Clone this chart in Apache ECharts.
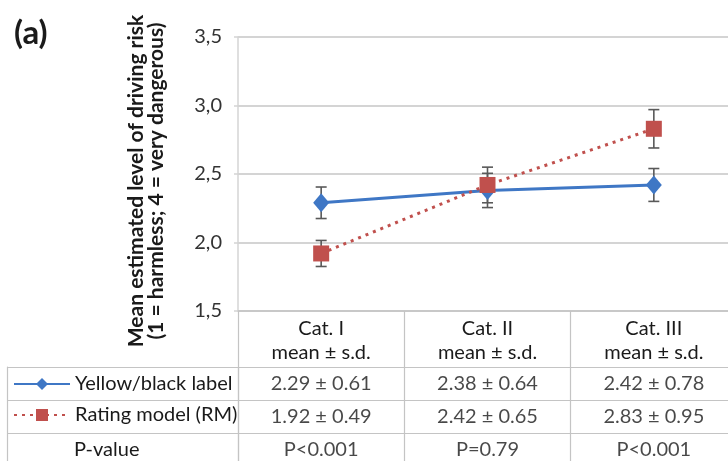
<!DOCTYPE html>
<html>
<head>
<meta charset="utf-8">
<script src="https://cdn.jsdelivr.net/npm/echarts@6/dist/echarts.min.js"></script>
<style>
  html, body { margin: 0; padding: 0; background: #fff; }
  #chart_a { width: 728px; height: 461px; }
</style>
</head>
<body>
<div id="chart_a"></div>
<script>
// values
var categories = ['Cat. I', 'Cat. II', 'Cat. III'];
var seriesNames = ['Yellow/black label', 'Rating model (RM)'];
var yellowMean = [2.29, 2.38, 2.42];
var yellowSd = [0.61, 0.64, 0.78];
var yellowErr = [0.115, 0.125, 0.12];
var rmMean = [1.92, 2.42, 2.83];
var rmSd = [0.49, 0.65, 0.95];
var rmErr = [0.095, 0.13, 0.14];
var pValues = ['P<0.001', 'P=0.79', 'P<0.001'];
var rowNames = [seriesNames[0], seriesNames[1], 'P-value'];
var yTicks = [1.5, 2.0, 2.5, 3.0, 3.5];

var blue = '#3f77c5',
    red = '#c0504d',
    gridGray = '#d4d4d4',
    tableGray = '#c4c4c4',
    textColor = '#1a1a1a',
    font = 'Lato';

function errData(mean, err) {
    return mean.map(function (m, i) {
        return [i, m - err[i], m + err[i]];
    });
}

function cellData() {
    var out = [];
    categories.forEach(function (c, i) {
        out.push([i, 0, yellowMean[i].toFixed(2) + ' ± ' + yellowSd[i].toFixed(2)]);
        out.push([i, 1, rmMean[i].toFixed(2) + ' ± ' + rmSd[i].toFixed(2)]);
        out.push([i, 2, pValues[i]]);
    });
    return out;
}

function renderErr(params, api) {
    var x = api.value(0);
    var lo = api.coord([x, api.value(1)]);
    var hi = api.coord([x, api.value(2)]);
    var w = 5.5;
    var st = {stroke: '#595959', lineWidth: 1.6};
    return {
        type: 'group',
        children: [
            {type: 'line', shape: {x1: lo[0], y1: lo[1], x2: hi[0], y2: hi[1]}, style: st},
            {type: 'line', shape: {x1: lo[0] - w, y1: lo[1], x2: lo[0] + w, y2: lo[1]}, style: st},
            {type: 'line', shape: {x1: hi[0] - w, y1: hi[1], x2: hi[0] + w, y2: hi[1]}, style: st}
        ]
    };
}

var option = {
    animation: false,
    textStyle: {fontFamily: font},
    title: {
        text: '(a)',
        left: 9,
        top: 12,
        textStyle: {fontSize: 33, fontWeight: 'bold', color: textColor, fontFamily: font}
    },
    legend: {
        orient: 'vertical',
        left: 13,
        top: 373,
        padding: 0,
        itemWidth: 56,
        itemHeight: 15,
        itemGap: 9,
        selectedMode: false,
        data: seriesNames,
        textStyle: {fontSize: 20, lineHeight: 22, color: textColor, fontFamily: font}
    },
    grid: [
        {left: 238, right: -9, top: 37, bottom: 150, outerBoundsMode: 'none'},
        {left: 238, right: -9, top: 367, bottom: -5, outerBoundsMode: 'none'}
    ],
    xAxis: [
        {
            type: 'category',
            gridIndex: 0,
            data: categories,
            boundaryGap: true,
            axisLine: {lineStyle: {color: tableGray, width: 1.5}},
            axisTick: {show: true, length: 56, lineStyle: {color: tableGray, width: 1.2}},
            axisLabel: {
                margin: 6,
                fontSize: 20,
                lineHeight: 24,
                color: textColor,
                formatter: function (v) { return v + '\nmean ± s.d.'; }
            }
        },
        {
            type: 'category',
            gridIndex: 1,
            data: categories,
            axisLine: {show: false},
            axisTick: {show: false},
            axisLabel: {show: false},
            splitLine: {show: true, lineStyle: {color: tableGray, width: 1.2}}
        }
    ],
    yAxis: [
        {
            type: 'value',
            gridIndex: 0,
            min: yTicks[0],
            max: yTicks[yTicks.length - 1],
            interval: 0.5,
            name: 'Mean estimated level of driving risk\n(1 = harmless; 4 = very dangerous)',
            nameLocation: 'middle',
            nameGap: 72,
            nameTextStyle: {fontSize: 21, fontWeight: 'bold', lineHeight: 20, color: textColor, padding: [0, 14, 0, 0]},
            axisLine: {show: true, lineStyle: {color: gridGray, width: 1.5}},
            axisTick: {show: true, length: 4, lineStyle: {color: gridGray, width: 1.5}},
            splitLine: {lineStyle: {color: gridGray, width: 1.8}},
            axisLabel: {
                margin: 16,
                fontSize: 20,
                color: '#333',
                formatter: function (v) { return v.toFixed(1).replace('.', ','); }
            }
        },
        {
            type: 'category',
            gridIndex: 1,
            data: rowNames,
            inverse: true,
            axisLine: {show: true, lineStyle: {color: tableGray, width: 1.2}},
            axisTick: {show: true, length: 231, lineStyle: {color: tableGray, width: 1.2}},
            splitLine: {show: true, lineStyle: {color: tableGray, width: 1.2}},
            axisLabel: {
                margin: 164,
                align: 'left',
                fontSize: 20,
                color: textColor,
                formatter: function (v) { return v === 'P-value' ? v : ''; }
            }
        },
        {
            type: 'category',
            gridIndex: 1,
            data: rowNames,
            inverse: true,
            position: 'left',
            offset: 231,
            axisLine: {show: true, lineStyle: {color: tableGray, width: 1.2}},
            axisTick: {show: false},
            axisLabel: {show: false},
            splitLine: {show: false}
        }
    ],
    series: [
        {
            type: 'custom',
            name: 'err_yellow',
            xAxisIndex: 0,
            yAxisIndex: 0,
            renderItem: renderErr,
            data: errData(yellowMean, yellowErr),
            z: 1
        },
        {
            type: 'custom',
            name: 'err_rm',
            xAxisIndex: 0,
            yAxisIndex: 0,
            renderItem: renderErr,
            data: errData(rmMean, rmErr),
            z: 1
        },
        {
            name: seriesNames[0],
            type: 'line',
            xAxisIndex: 0,
            yAxisIndex: 0,
            data: yellowMean,
            symbol: 'diamond',
            symbolSize: [16, 19],
            itemStyle: {color: blue},
            lineStyle: {color: blue, width: 3},
            z: 3
        },
        {
            name: seriesNames[1],
            type: 'line',
            xAxisIndex: 0,
            yAxisIndex: 0,
            data: rmMean,
            symbol: 'rect',
            symbolSize: 16,
            itemStyle: {color: red},
            lineStyle: {color: red, width: 3, type: [3, 5]},
            z: 4
        },
        {
            type: 'scatter',
            name: 'cells',
            xAxisIndex: 1,
            yAxisIndex: 1,
            data: cellData(),
            symbolSize: 1,
            itemStyle: {color: 'transparent'},
            silent: true,
            label: {
                show: true,
                position: 'inside',
                fontSize: 20,
                color: textColor,
                formatter: function (p) { return p.data[2]; }
            }
        }
    ]
};

var chart = echarts.init(document.getElementById('chart_a'));
chart.setOption(option);
</script>
</body>
</html>
